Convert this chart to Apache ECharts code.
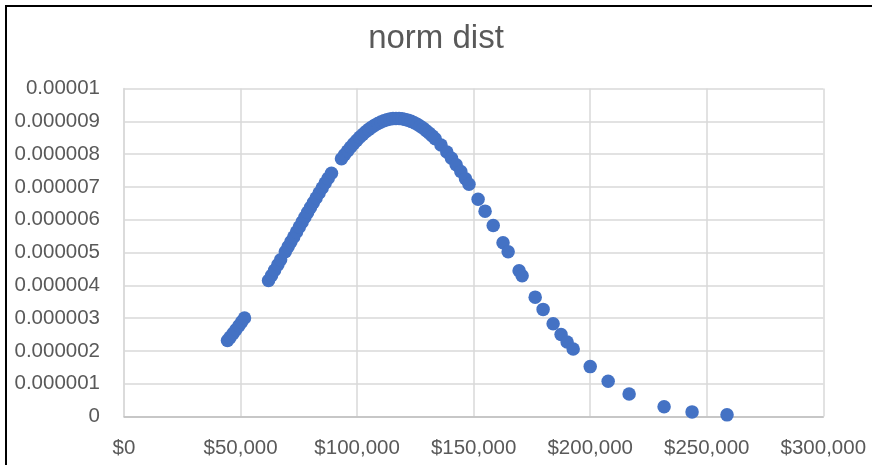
<!DOCTYPE html>
<html>
<head>
<meta charset="utf-8">
<script src="https://cdn.jsdelivr.net/npm/echarts@6/dist/echarts.min.js"></script>
<style>
  html, body { margin: 0; padding: 0; background: #fff; }
  #frame {
    position: absolute; left: 5px; top: 5px; width: 867px; height: 460px;
    border-left: 2px solid #000; border-top: 2px solid #000;
    box-sizing: border-box; pointer-events: none; z-index: 2;
  }
  #chart { width: 872px; height: 465px; }
</style>
</head>
<body>
<div id="frame"></div>
<div id="chart"></div>
<script>
// salary values (x)
const salaries = [
  44400, 45500, 46800, 48000, 49300, 50500, 51700,
  62000, 63300, 64600, 66000, 67200,
  69200, 70400, 71600, 72800, 74000, 75200, 76400, 77600, 78800, 80000,
  81200, 82400, 83700, 85000, 86300, 87600, 89000,
  93300, 94600, 95900, 97200, 98500, 99800, 101100, 102400, 103700, 105000,
  106300, 107600, 108900, 110200, 111500, 112800, 114100, 115400, 116700, 118000,
  119300, 120600, 121900, 123200, 124500, 125800, 127100, 128400, 129700, 131000,
  132300, 133500, 136000, 138500, 140500, 142500, 144500, 146500, 148000,
  151900, 154900, 158400, 162600, 164800, 169500, 170800, 176400, 179800,
  184100, 187500, 190100, 192700, 200000, 207700, 216700, 231700, 243700, 258700
]
// density values (y)
const density = [
  2.315e-6, 2.413e-6, 2.531e-6, 2.643e-6, 2.767e-6, 2.885e-6, 3.006e-6,
  4.146e-6, 4.300e-6, 4.457e-6, 4.628e-6, 4.776e-6,
  5.024e-6, 5.174e-6, 5.324e-6, 5.475e-6, 5.625e-6, 5.776e-6, 5.926e-6, 6.075e-6, 6.224e-6, 6.371e-6,
  6.517e-6, 6.661e-6, 6.816e-6, 6.968e-6, 7.117e-6, 7.262e-6, 7.416e-6,
  7.856e-6, 7.978e-6, 8.096e-6, 8.209e-6, 8.315e-6, 8.416e-6, 8.511e-6, 8.599e-6, 8.680e-6, 8.754e-6,
  8.822e-6, 8.883e-6, 8.934e-6, 8.980e-6, 9.017e-6, 9.046e-6, 9.068e-6, 9.082e-6, 9.088e-6, 9.086e-6,
  9.076e-6, 9.057e-6, 9.031e-6, 8.998e-6, 8.956e-6, 8.907e-6, 8.851e-6, 8.786e-6, 8.715e-6, 8.637e-6,
  8.553e-6, 8.468e-6, 8.276e-6, 8.061e-6, 7.875e-6, 7.677e-6, 7.469e-6, 7.251e-6, 7.082e-6,
  6.626e-6, 6.261e-6, 5.825e-6, 5.298e-6, 5.024e-6, 4.446e-6, 4.289e-6, 3.639e-6, 3.266e-6,
  2.826e-6, 2.503e-6, 2.272e-6, 2.055e-6, 1.521e-6, 1.075e-6, 0.689e-6, 0.299e-6, 0.141e-6, 0.050e-6
]
const yTickLabels = ['0', '0.000001', '0.000002', '0.000003', '0.000004', '0.000005',
  '0.000006', '0.000007', '0.000008', '0.000009', '0.00001']
const xTickLabels = ['$0', '$50,000', '$100,000', '$150,000', '$200,000', '$250,000', '$300,000']

const chart = echarts.init(document.getElementById('chart'))
const font = 'Liberation Sans'

chart.setOption({
  animation: false,
  backgroundColor: '#fff',
  title: {
    text: 'norm dist',
    left: 'center',
    top: 17,
    textStyle: { fontFamily: font, fontSize: 33, fontWeight: 'normal', color: '#595959' }
  },
  grid: { left: 124, top: 88.5, right: 48.7, bottom: 48.5, containLabel: false },
  xAxis: {
    type: 'value',
    min: 0, max: 300000, interval: 50000,
    axisLine: { show: true, lineStyle: { color: '#bfbfbf', width: 1.5 } },
    axisTick: { show: false },
    splitLine: { show: true, lineStyle: { color: '#d9d9d9', width: 1.5 } },
    axisLabel: {
      margin: 21, fontFamily: font, fontSize: 20.5, color: '#595959',
      formatter: (v) => xTickLabels[Math.round(v / 50000)]
    }
  },
  yAxis: {
    type: 'value',
    min: 0, max: 0.00001, interval: 0.000001,
    axisLine: { show: true, lineStyle: { color: '#d9d9d9', width: 1.5 } },
    axisTick: { show: false },
    splitLine: { show: true, lineStyle: { color: '#d9d9d9', width: 1.5 } },
    axisLabel: {
      margin: 24, fontFamily: font, fontSize: 20.5, color: '#595959',
      formatter: (v) => yTickLabels[Math.round(v / 0.000001)]
    }
  },
  series: [{
    type: 'scatter',
    symbol: 'circle',
    symbolSize: 13.5,
    itemStyle: { color: '#4472c4', opacity: 1 },
    data: salaries.map((s, i) => [s, density[i]])
  }]
})
</script>
</body>
</html>
